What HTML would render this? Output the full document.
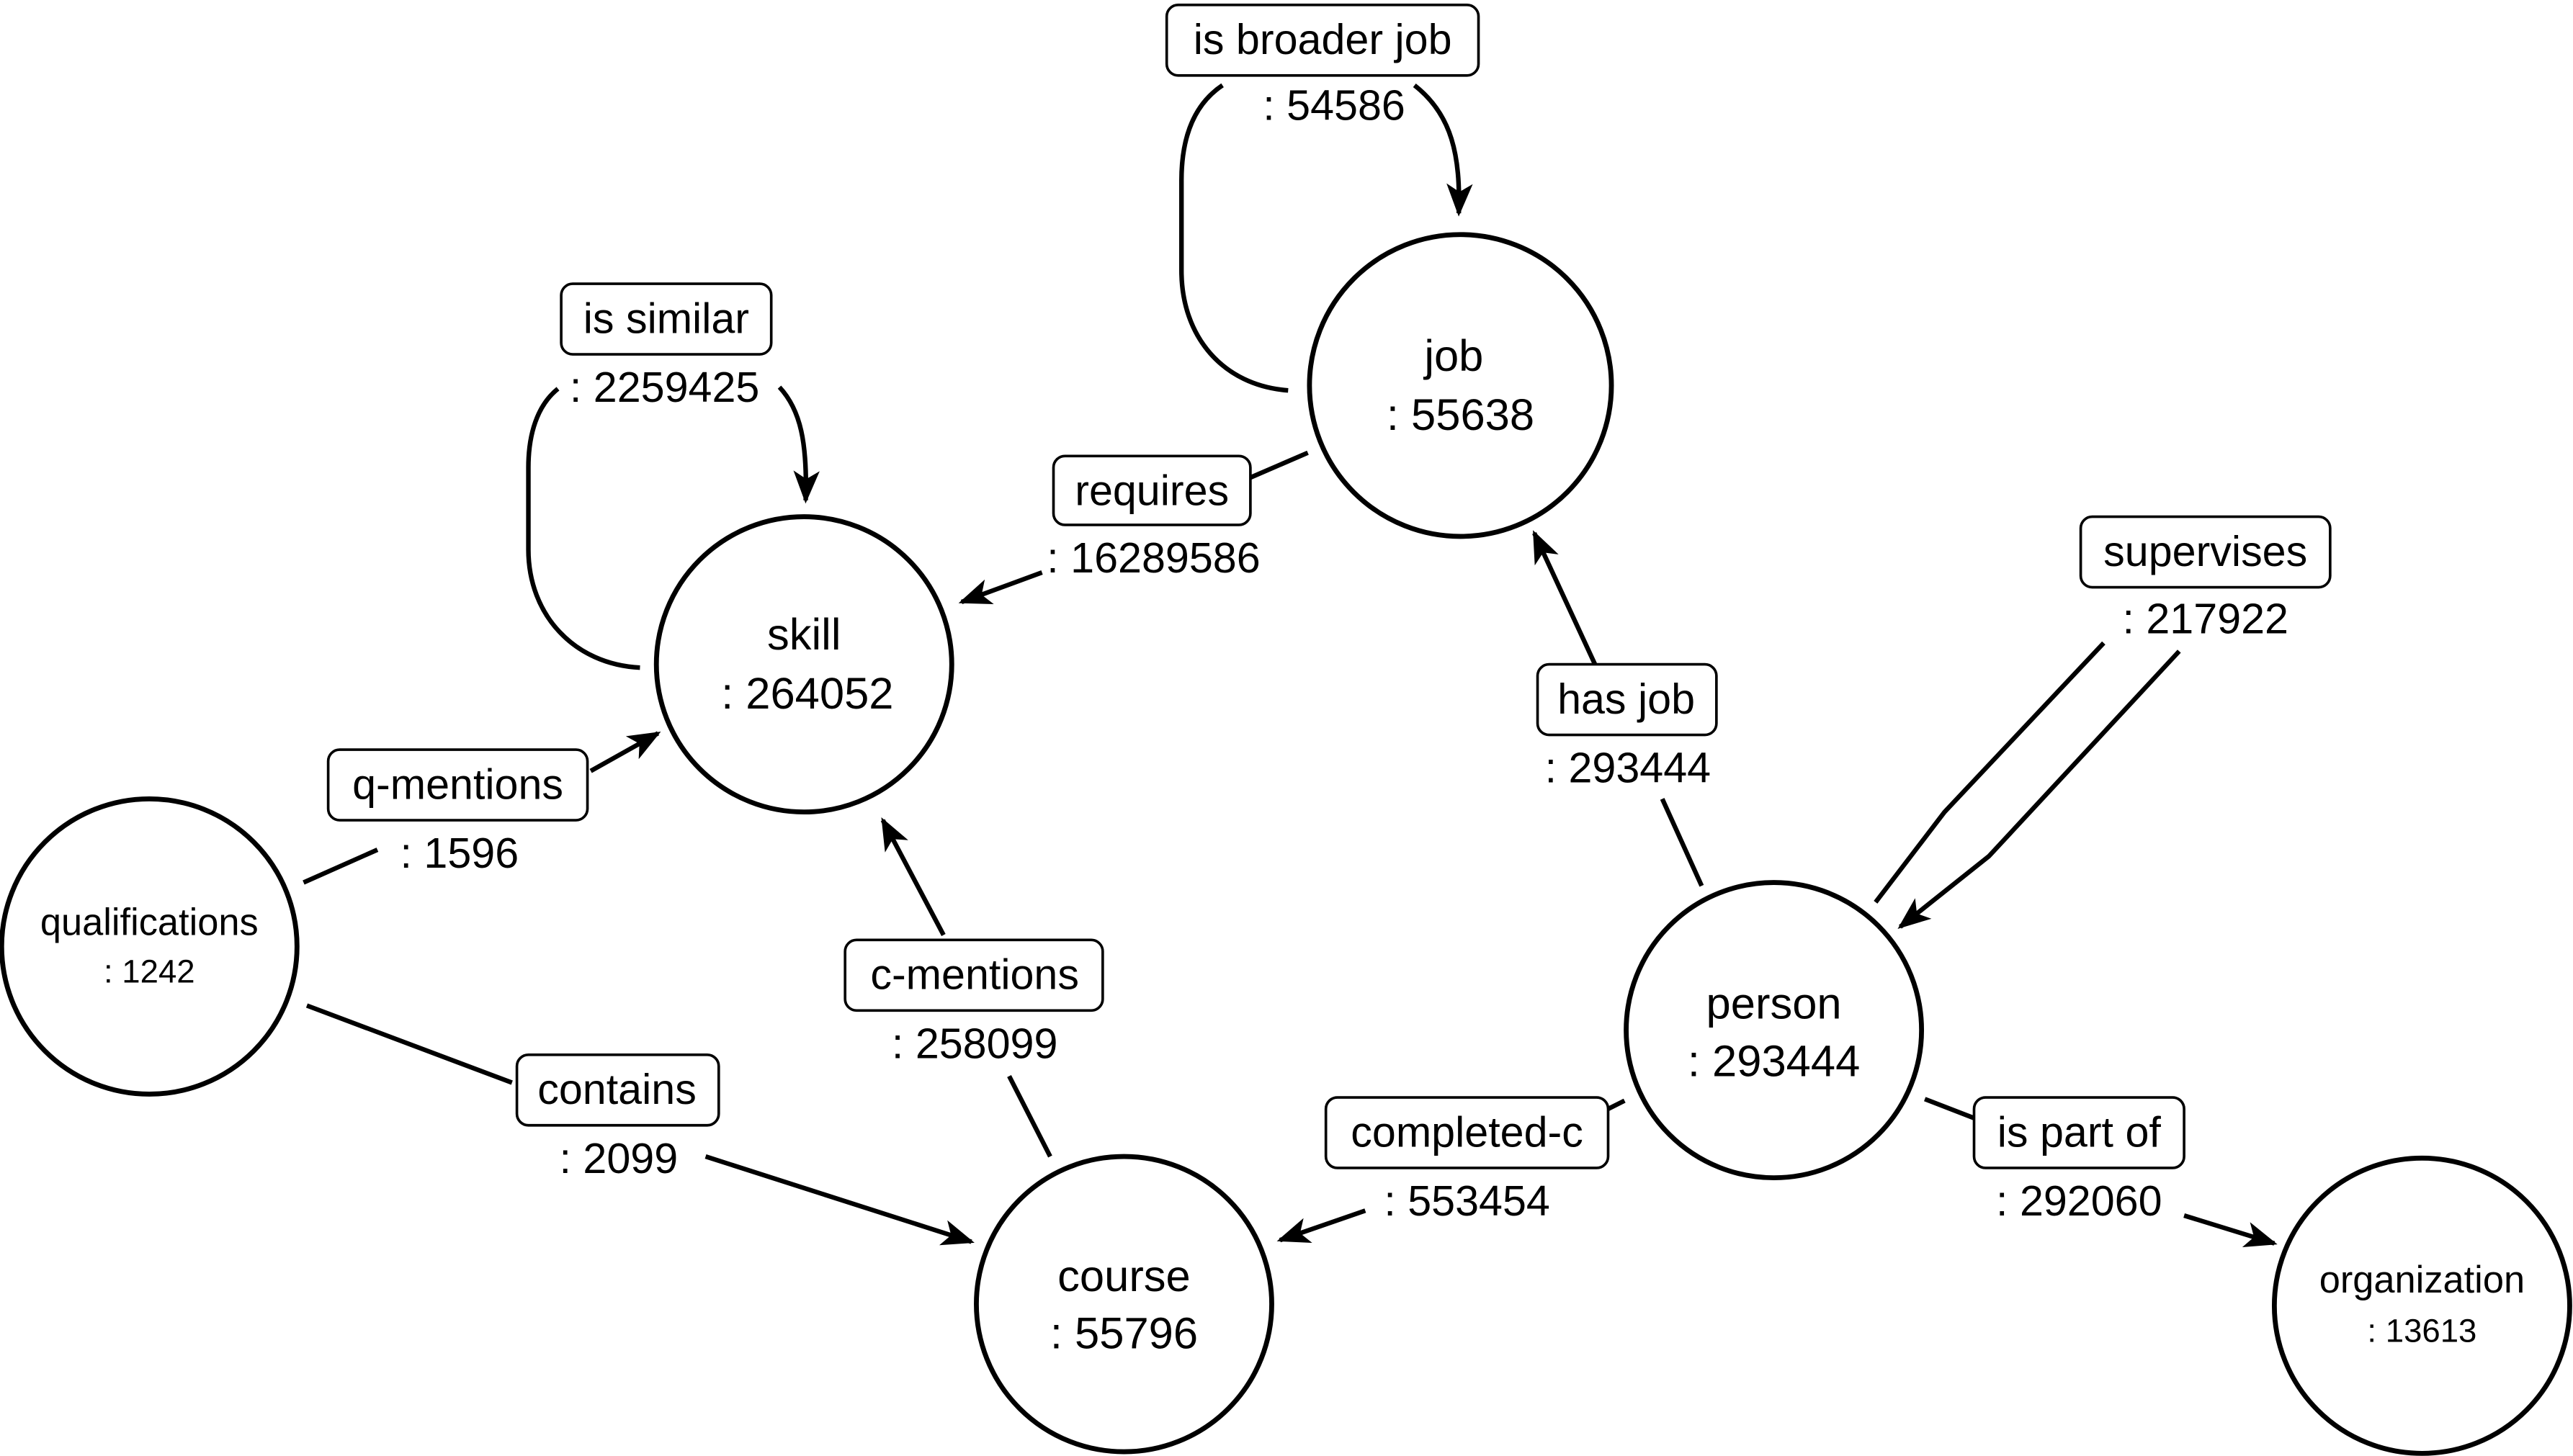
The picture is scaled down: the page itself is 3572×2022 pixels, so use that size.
<!DOCTYPE html>
<html><head><meta charset="utf-8"><style>
html,body{margin:0;padding:0;background:#fff;}
svg{display:block;}
text{font-family:"Liberation Sans",sans-serif;fill:#000;}
</style></head><body>
<svg width="3572" height="2022" viewBox="0 0 1568 887.6" preserveAspectRatio="none" xmlns="http://www.w3.org/2000/svg">
<defs>
<marker id="a" markerWidth="20" markerHeight="16" refX="18" refY="8" orient="auto" markerUnits="userSpaceOnUse" viewBox="0 0 20 16">
<path d="M0,0 L20,8 L0,16 L5,8 z" fill="#000"/></marker>
</defs>
<g fill="none" stroke="#000" stroke-width="3">
<circle cx="890" cy="235" r="92"/>
<circle cx="490" cy="405" r="90"/>
<circle cx="91" cy="577" r="90"/>
<circle cx="685" cy="795" r="90"/>
<circle cx="1081" cy="628" r="90"/>
<circle cx="1476" cy="796" r="90"/>
</g>
<g fill="none" stroke="#000" stroke-width="2.8">
<path d="M785,238 C745,235 720,205 720,165 L720,110 C720,80 730,62 745,52"/>
<path d="M862,52 C885,70 890,95 889,130" marker-end="url(#a)"/>
<path d="M390,407 C350,405 322,375 322,335 L322,285 C322,260 330,245 340,237"/>
<path d="M475,236 C488,250 492,270 491,305" marker-end="url(#a)"/>
<path d="M797,276 L760,292"/>
<path d="M635,349 L586,367" marker-end="url(#a)"/>
<path d="M1037,540 L1013,487"/>
<path d="M972,405 L935,325" marker-end="url(#a)"/>
<path d="M1143,550 L1185,495 L1282,392"/>
<path d="M1328,397 L1212,522 L1158,565" marker-end="url(#a)"/>
<path d="M185,538 L230,518"/>
<path d="M360,470 L401,447" marker-end="url(#a)"/>
<path d="M187,613 L312,660"/>
<path d="M430,705 L592,757" marker-end="url(#a)"/>
<path d="M640,705 L615,656"/>
<path d="M575,570 L538,500" marker-end="url(#a)"/>
<path d="M990,671 L980,676"/>
<path d="M832,738 L780,756" marker-end="url(#a)"/>
<path d="M1173,670 L1204,682"/>
<path d="M1331,741 L1386,758" marker-end="url(#a)"/>
</g>
<g fill="#fff" stroke="#000" stroke-width="1.6">
<rect x="711" y="3" width="190" height="43" rx="7"/>
<rect x="342" y="173" width="128" height="43" rx="7"/>
<rect x="642" y="278" width="120" height="42" rx="7"/>
<rect x="1268" y="315" width="152" height="43" rx="7"/>
<rect x="937" y="405" width="109" height="43" rx="7"/>
<rect x="200" y="457" width="158" height="43" rx="7"/>
<rect x="515" y="573" width="157" height="43" rx="7"/>
<rect x="315" y="643" width="123" height="43" rx="7"/>
<rect x="808" y="669" width="172" height="43" rx="7"/>
<rect x="1203" y="669" width="128" height="43" rx="7"/>
</g>
<g font-size="26" text-anchor="middle">
<text x="806" y="33">is broader job</text><text x="813" y="73">: 54586</text>
<text x="406" y="203">is similar</text><text x="405" y="245">: 2259425</text>
<text x="702" y="308">requires</text><text x="703" y="349">: 16289586</text>
<text x="1344" y="345">supervises</text><text x="1344" y="386">: 217922</text>
<text x="991" y="435">has job</text><text x="992" y="477">: 293444</text>
<text x="279" y="487">q-mentions</text><text x="280" y="529">: 1596</text>
<text x="594" y="603">c-mentions</text><text x="594" y="645">: 258099</text>
<text x="376" y="673">contains</text><text x="377" y="715">: 2099</text>
<text x="894" y="699">completed-c</text><text x="894" y="741">: 553454</text>
<text x="1267" y="699">is part of</text><text x="1267" y="741">: 292060</text>
</g>
<g font-size="27" text-anchor="middle">
<text x="886" y="226">job</text><text x="890" y="262">: 55638</text>
<text x="490" y="396">skill</text><text x="492" y="432">: 264052</text>
<text x="685" y="787">course</text><text x="685" y="822">: 55796</text>
<text x="1081" y="621">person</text><text x="1081" y="656">: 293444</text>
</g>
<g text-anchor="middle">
<text x="91" y="570" font-size="23">qualifications</text><text x="91" y="599" font-size="20">: 1242</text>
<text x="1476" y="788" font-size="23">organization</text><text x="1476" y="818" font-size="20">: 13613</text>
</g>
</svg>
</body></html>
